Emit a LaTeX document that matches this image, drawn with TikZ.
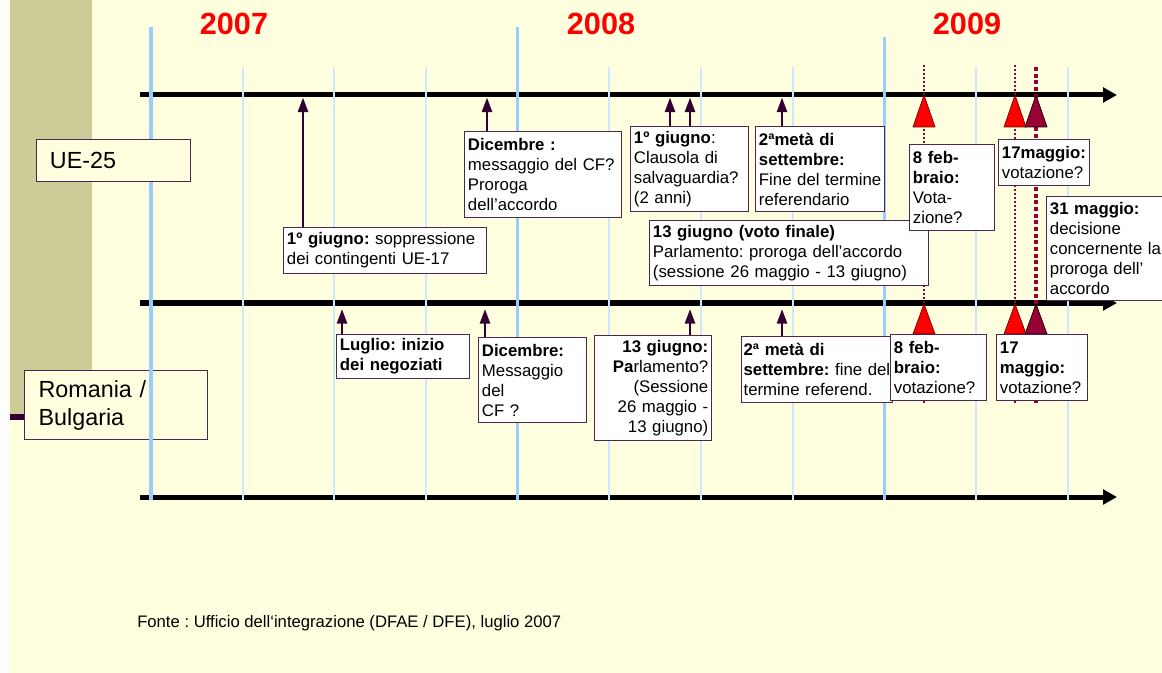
\documentclass[tikz,border=0pt]{standalone}
\usepackage{fontspec}
\setmainfont{Liberation Sans}
\usetikzlibrary{arrows.meta}
\definecolor{cream}{HTML}{FFFFE0}
\definecolor{olive}{HTML}{CCCC99}
\definecolor{boxc}{HTML}{4D264D}
\definecolor{evc}{HTML}{330033}
\definecolor{majb}{HTML}{99CCFF}
\definecolor{minb}{HTML}{CCE8FF}
\definecolor{dotc}{HTML}{990033}
\definecolor{yearc}{HTML}{FF0000}
\frenchspacing
\begin{document}
\begin{tikzpicture}[x=0.75pt,y=-0.75pt,
  tbox/.style={draw=boxc, line width=0.9pt, fill=white, inner xsep=2.5pt, inner ysep=1pt,
    align=left, anchor=north west, font=\frenchspacing\fontsize{12.6}{15}\selectfont},
  lbox/.style={draw=boxc, line width=0.9pt, fill=cream, inner ysep=1pt,
    align=left, anchor=north west, font=\fontsize{17.5}{21}\selectfont},
  axisline/.style={line width=3.75pt, -{Triangle[length=10.5pt,width=11pt]}},
  majl/.style={majb, line width=2.6pt},
  minl/.style={minb, line width=1.7pt},
  ev/.style={draw=evc, line width=2pt, -{Triangle[length=11pt,width=7.5pt]}},
  thindot/.style={dotc, line width=1.5pt, dash pattern=on 1.5pt off 1.5pt},
  thickdot/.style={dotc, line width=3.3pt, dash pattern=on 3pt off 2pt},
  redtri/.style={fill=red, draw=black!60!red, line width=0.5pt},
  darktri/.style={fill=dotc, draw=black, line width=0.5pt},
  year/.style={text=yearc, font=\bfseries\fontsize{23}{23}\selectfont}
]
\useasboundingbox (0,0) rectangle (1162,673);
\clip (0,0) rectangle (1162,673);
% background
\fill[white] (0,0) rectangle (1162,673);
\fill[cream] (9,0) rectangle (1162,673);
\fill[olive] (10,0) rectangle (92,414);
\fill[evc] (10,414) rectangle (24,420);

% Romania / Bulgaria label (under the month grid)
\node[lbox, inner xsep=10.5pt, text width=116.25pt, minimum height=51.75pt] (rb) at (24,370) {Romania /\\Bulgaria};

% axes
\coordinate (t0) at (140,95);  \coordinate (t1) at (1117,95);
\coordinate (m0) at (140,303); \coordinate (m1) at (1117,303);
\coordinate (u0) at (140,497); \coordinate (u1) at (1117,497);
\draw[axisline] (t0) -- (t1);
\draw[axisline] (m0) -- (m1);
\draw[axisline] (u0) -- (u1);

% month grid
\draw[majl] (151,27) -- (151,500);
\draw[majl] (517.7,27) -- (517.7,500);
\draw[majl] (884.3,37) -- (884.3,500);
\foreach \x in {242.7,334.3,426,609.3,701,792.7,976,1067.7}
  \draw[minl] (\x,67) -- (\x,500);

% vote markers
\draw[thindot] (924,65) -- (924,403);
\draw[thindot] (1015,65) -- (1015,403);
\draw[thickdot] (1036,67) -- (1036,403);
\filldraw[redtri] (913,127) -- (924,95) -- (935,127) -- cycle;
\filldraw[redtri] (1004,127) -- (1015,95) -- (1026,127) -- cycle;
\filldraw[darktri] (1025,127) -- (1036,95) -- (1047,127) -- cycle;
\filldraw[redtri] (913,334) -- (924,304) -- (935,334) -- cycle;
\filldraw[redtri] (1004,334) -- (1015,304) -- (1026,334) -- cycle;
\filldraw[darktri] (1025,334) -- (1036,304) -- (1047,334) -- cycle;

% row labels
\node[lbox, inner xsep=10pt, text width=95.5pt, minimum height=31.5pt] (ue) at (36,139) {UE-25};

% UE-25 row boxes
\node[tbox, text width=147.25pt, minimum height=34.5pt] (a1) at (283,227) {\textbf{1º giugno:} soppressione\\dei contingenti UE-17};
\node[tbox, text width=112.75pt, minimum height=64.5pt] (a2) at (464,131) {\textbf{Dicembre :}\\messaggio del CF?\\Proroga\\dell’accordo};
\node[tbox, text width=83.5pt, minimum height=63.75pt] (a3) at (630,126) {\textbf{1º giugno}:\\Clausola di\\salvaguardia?\\(2 anni)};
\node[tbox, text width=91.75pt, minimum height=63.75pt] (a4) at (755,126) {\textbf{2ªmetà di}\\\textbf{settembre:}\\Fine del termine\\referendario};
\node[tbox, text width=204.25pt, minimum height=48.75pt] (a8) at (649,220) {\textbf{13 giugno (voto finale)}\\Parlamento: proroga dell’accordo\\(sessione 26 maggio - 13 giugno)};
\node[tbox, text width=58.75pt, minimum height=64.5pt] (a5) at (909,144) {\textbf{8 feb-}\\\textbf{braio:}\\Vota-\\zione?};
\node[tbox, text width=63.25pt, minimum height=34.5pt] (a6) at (998,139) {\textbf{17maggio:}\\votazione?};
\node[tbox, text width=85pt, minimum height=78pt] (a7) at (1046,196) {\textbf{31 maggio:}\\decisione\\concernente la\\proroga dell’\\accordo};

% Romania / Bulgaria row boxes
\node[tbox, text width=94.75pt, minimum height=33pt] (r1) at (336,334) {\textbf{Luglio: inizio}\\\textbf{dei negoziati}};
\node[tbox, text width=76pt, minimum height=63.75pt] (r2) at (478,337) {\textbf{Dicembre:}\\Messaggio\\del\\CF ?};
\node[tbox, align=right, text width=82.75pt, minimum height=78.75pt] (r3) at (594,335) {\textbf{13 giugno:}\\\textbf{Pa}rlamento?\\(Sessione\\26 maggio -\\13 giugno)};
\node[tbox, inner xsep=1.5pt, text width=110pt, minimum height=49.5pt] (r4) at (741,336) {\textbf{2ª metà di}\\\mbox{\textbf{settembre:} fine del}\\termine referend.};
\node[tbox, text width=67pt, minimum height=49.5pt] (r5) at (890,334) {\textbf{8 feb-}\\\textbf{braio:}\\votazione?};
\node[tbox, text width=63.25pt, minimum height=49.5pt] (r6) at (996,334) {\textbf{17}\\\textbf{maggio:}\\votazione?};

% event arrows
\coordinate (e1) at (303,97.5);
\coordinate (e2) at (487,97.5);
\coordinate (e3) at (670,97.5);
\coordinate (e4) at (690,97.5);
\coordinate (e5) at (782,97.5);
\draw[ev] (a1.north -| e1) -- (e1);
\draw[ev] (a2.north -| e2) -- (e2);
\draw[ev] (a3.north -| e3) -- (e3);
\draw[ev] (a3.north -| e4) -- (e4);
\draw[ev] (a4.north -| e5) -- (e5);
\coordinate (f1) at (342,309);
\coordinate (f2) at (485,309);
\coordinate (f3) at (690,309);
\coordinate (f4) at (782,309);
\draw[ev] (r1.north -| f1) -- (f1);
\draw[ev] (r2.north -| f2) -- (f2);
\draw[ev] (r3.north -| f3) -- (f3);
\draw[ev] (r4.north -| f4) -- (f4);

% years
\node[year] (y7) at (234,24) {2007};
\node[year] (y8) at (601,24) {2008};
\node[year] (y9) at (967,24) {2009};

% source
\node[anchor=base west, inner sep=0pt, font=\frenchspacing\fontsize{12.5}{15}\selectfont] (src) at (137,627) {Fonte : Ufficio dell‘integrazione (DFAE / DFE), luglio 2007};
\end{tikzpicture}
\end{document}
